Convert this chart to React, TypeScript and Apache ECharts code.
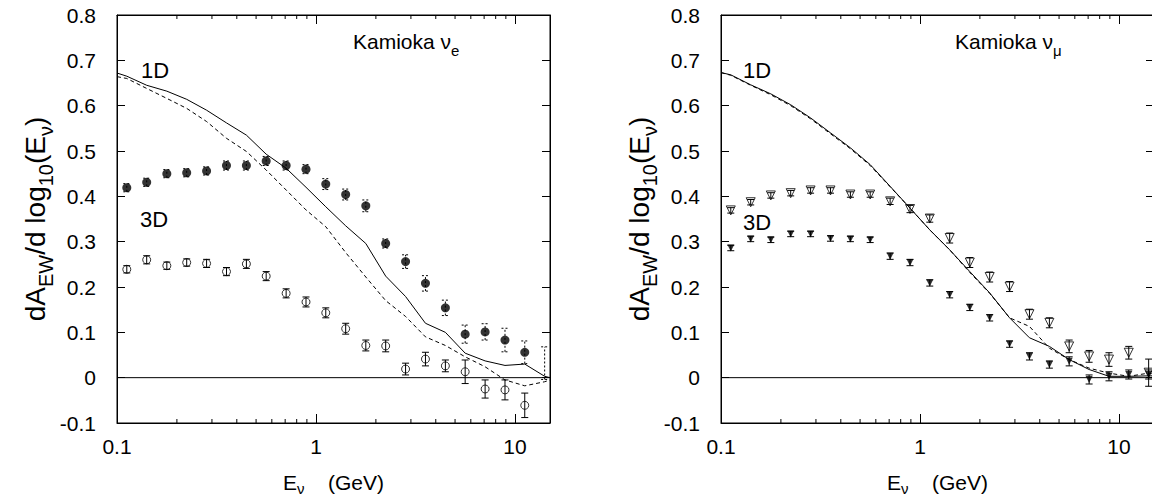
import React, { useEffect, useRef } from 'react';
import * as echarts from 'echarts';

const FONT = "'Liberation Sans', Arial, Helvetica, sans-serif";
const FS = 21;

const X_MIN = 0.1;
const X_MAX = 15;
const Y_MIN = -0.1;
const Y_MAX = 0.8;
const X_LABELS = [0.1, 1, 10];
const MINOR_TICKS = [0.2, 0.3, 0.4, 0.5, 0.6, 0.7, 0.8, 0.9, 2, 3, 4, 5, 6, 7, 8, 9];

// bin centres (GeV)
const BIN_E = [0.112, 0.141, 0.178, 0.224, 0.282, 0.355, 0.447, 0.562, 0.708, 0.891, 1.12, 1.41, 1.78, 2.24, 2.82, 3.55, 4.47, 5.62, 7.08, 8.91, 11.2, 14.1];
// curve sample points
const CURVE_E = [0.1, 0.112, 0.141, 0.178, 0.224, 0.282, 0.355, 0.447, 0.562, 0.708, 0.891, 1.12, 1.41, 1.78, 2.24, 2.82, 3.55, 4.47, 5.62, 7.08, 8.91, 11.2, 14.1, 15];

// ---- Kamioka nu_e ----
const NUE_SOLID = [0.672, 0.665, 0.645, 0.632, 0.614, 0.590, 0.562, 0.535, 0.493, 0.462, 0.420, 0.377, 0.335, 0.296, 0.224, 0.179, 0.120, 0.100, 0.054, 0.037, 0.027, 0.030, 0.003, 0.0];
const NUE_DASHED = [0.664, 0.660, 0.638, 0.616, 0.594, 0.565, 0.528, 0.499, 0.458, 0.414, 0.370, 0.333, 0.276, 0.222, 0.170, 0.135, 0.090, 0.071, 0.046, 0.024, -0.005, -0.018, -0.009, -0.005];
const NUE_FILLED = [0.419, 0.431, 0.450, 0.452, 0.456, 0.468, 0.468, 0.478, 0.468, 0.460, 0.427, 0.404, 0.379, 0.296, 0.256, 0.208, 0.154, 0.096, 0.101, 0.083, 0.056];
const NUE_FILLED_ERR = [0.009, 0.009, 0.009, 0.009, 0.009, 0.010, 0.010, 0.010, 0.010, 0.010, 0.012, 0.012, 0.013, 0.010, 0.015, 0.017, 0.017, 0.020, 0.018, 0.026, 0.025];
const NUE_LAST_E = [14.1];
const NUE_LAST_VAL = [0.032];
const NUE_LAST_ERR = [0.036];
const NUE_OPEN = [0.239, 0.260, 0.247, 0.254, 0.252, 0.234, 0.251, 0.224, 0.186, 0.167, 0.143, 0.108, 0.071, 0.070, 0.019, 0.041, 0.026, 0.013, -0.025, -0.027, -0.061];
const NUE_OPEN_ERR = [0.008, 0.009, 0.008, 0.008, 0.009, 0.009, 0.010, 0.010, 0.010, 0.011, 0.011, 0.012, 0.012, 0.013, 0.013, 0.015, 0.013, 0.026, 0.020, 0.022, 0.027];

// ---- Kamioka nu_mu ----
const NUM_SOLID = [0.673, 0.668, 0.646, 0.626, 0.602, 0.573, 0.540, 0.507, 0.470, 0.422, 0.374, 0.326, 0.282, 0.234, 0.187, 0.132, 0.088, 0.069, 0.040, 0.018, 0.003, 0.003, 0.004, 0.004];
const NUM_DASHED = [0.673, 0.667, 0.645, 0.624, 0.600, 0.571, 0.538, 0.505, 0.468, 0.421, 0.374, 0.326, 0.282, 0.232, 0.186, 0.132, 0.113, 0.065, 0.040, 0.021, 0.010, 0.003, 0.010, 0.008];
const NUM_OPEN = [0.369, 0.387, 0.402, 0.407, 0.413, 0.413, 0.404, 0.404, 0.389, 0.372, 0.351, 0.308, 0.254, 0.222, 0.201, 0.140, 0.121, 0.069, 0.047, 0.040, 0.055, 0.011];
const NUM_OPEN_ERR = [0.006, 0.006, 0.006, 0.006, 0.006, 0.006, 0.006, 0.006, 0.007, 0.008, 0.008, 0.011, 0.011, 0.011, 0.011, 0.011, 0.011, 0.014, 0.013, 0.015, 0.014, 0.030];
const NUM_FILLED = [0.286, 0.306, 0.304, 0.317, 0.317, 0.307, 0.306, 0.304, 0.268, 0.254, 0.209, 0.183, 0.155, 0.132, 0.074, 0.047, 0.029, 0.036, -0.004, 0.003, 0.007, 0.007];
const NUM_FILLED_ERR = [0.006, 0.006, 0.006, 0.006, 0.006, 0.006, 0.006, 0.006, 0.007, 0.007, 0.007, 0.007, 0.007, 0.007, 0.007, 0.008, 0.008, 0.010, 0.010, 0.010, 0.010, 0.010];

const GRIDS = [
  { left: 117, top: 15, width: 433, height: 408 },
  { left: 721, top: 15, width: 433, height: 408 },
];

const xNameRich = {
  n: { fontSize: FS, fontFamily: FONT, color: '#000', lineHeight: 28, verticalAlign: 'middle' },
  s: { fontSize: 15, fontFamily: FONT, color: '#000', verticalAlign: 'bottom' },
};
const yNameRich = {
  n: { fontSize: 28, fontFamily: FONT, color: '#000', lineHeight: 41, verticalAlign: 'middle' },
  s: { fontSize: 20, fontFamily: FONT, color: '#000', verticalAlign: 'bottom' },
};
const gRich = {
  n: { fontSize: FS, fontFamily: FONT, fill: '#000', lineHeight: 33, verticalAlign: 'middle' },
  s: { fontSize: 15, fontFamily: FONT, fill: '#000', verticalAlign: 'bottom' },
};

function xLabel(v: number) {
  for (const t of X_LABELS) {
    if (Math.abs(v - t) < t * 1e-6) return String(t);
  }
  return '';
}

function makeAxes() {
  const xAxis: any[] = [];
  const yAxis: any[] = [];
  GRIDS.forEach((_, g) => {
    const common = {
      type: 'log', logBase: 10, gridIndex: g, min: X_MIN, max: X_MAX,
      splitLine: { show: false },
      axisLine: { show: true, onZero: false, lineStyle: { color: '#000', width: 1 } },
      axisTick: { show: true, inside: true, length: 9, lineStyle: { color: '#000', width: 1 } },
    };
    xAxis.push({
      ...common, position: 'bottom',
      axisLabel: { show: true, formatter: xLabel, color: '#000', fontSize: FS, fontFamily: FONT, margin: 13, showMaxLabel: false },
      name: '{n|E}{s|ν}{n|    (GeV)}', nameLocation: 'middle', nameGap: 45,
      nameTextStyle: { rich: xNameRich },
    });
    xAxis.push({ ...common, position: 'top', axisLabel: { show: false } });
    const ycommon = {
      type: 'value', gridIndex: g, min: Y_MIN, max: Y_MAX, interval: 0.1,
      splitLine: { show: false },
      axisLine: { show: true, onZero: false, lineStyle: { color: '#000', width: 1 } },
      axisTick: { show: true, inside: true, length: 8, lineStyle: { color: '#000', width: 1 } },
    };
    yAxis.push({
      ...ycommon, position: 'left',
      axisLabel: {
        show: true, color: '#000', fontSize: FS, fontFamily: FONT, margin: 21,
        formatter: (v: number) => (Math.abs(v) < 1e-9 ? '0' : v.toFixed(1)),
      },
      name: '{n|dA}{s|EW}{n|/d log}{s|10}{n|(E}{s|ν}{n|)}', nameLocation: 'middle', nameRotate: 90, nameGap: 56,
      nameTextStyle: { rich: yNameRich },
    });
    yAxis.push({ ...ycommon, position: 'right', axisLabel: { show: false } });
  });
  return { xAxis, yAxis };
}

function axisIdx(g: number) {
  return { xAxisIndex: g * 2, yAxisIndex: g * 2 };
}

function lineSeries(g: number, xs: number[], ys: number[], dashed: boolean) {
  return {
    type: 'line', ...axisIdx(g), showSymbol: false, symbol: 'none', z: 2, silent: true,
    data: xs.map((x, i) => [x, ys[i]]),
    lineStyle: { color: '#000', width: 1, type: dashed ? [4, 3] : 'solid' },
  };
}

function scatterSeries(g: number, xs: number[], ys: number[], symbol: string, filled: boolean, size: number, rotate = 0) {
  return {
    type: 'scatter', ...axisIdx(g), symbol, symbolSize: size, symbolRotate: rotate, z: 4, silent: true,
    data: ys.map((y, i) => [xs[i], y]),
    itemStyle: filled
      ? { color: '#000' }
      : { color: 'rgba(255,255,255,0)', borderColor: '#000', borderWidth: 1 },
  };
}

function errorSeries(g: number, xs: number[], ys: number[], errs: number[], dashed: boolean) {
  return {
    type: 'custom', ...axisIdx(g), z: 5, silent: true,
    data: ys.map((y, i) => [xs[i], y, errs[i]]),
    encode: { x: 0, y: 1 },
    renderItem: (params: any, api: any) => {
      const x = api.value(0);
      const y = api.value(1);
      const e = api.value(2);
      const lo = api.coord([x, y - e]);
      const hi = api.coord([x, y + e]);
      const w = 3.5;
      const style: any = { stroke: '#000', lineWidth: 1, fill: 'none' };
      if (dashed) style.lineDash = [2, 2];
      return {
        type: 'group',
        children: [
          { type: 'line', shape: { x1: lo[0], y1: lo[1], x2: hi[0], y2: hi[1] }, style },
          { type: 'line', shape: { x1: lo[0] - w, y1: lo[1], x2: lo[0] + w, y2: lo[1] }, style },
          { type: 'line', shape: { x1: hi[0] - w, y1: hi[1], x2: hi[0] + w, y2: hi[1] }, style },
        ],
      };
    },
  };
}

function minorTickSeries(g: number) {
  return {
    type: 'custom', ...axisIdx(g), z: 6, silent: true,
    data: MINOR_TICKS.map((v) => [v, 0]),
    encode: { x: 0, y: 1 },
    renderItem: (params: any, api: any) => {
      const x = api.value(0);
      const b = api.coord([x, Y_MIN]);
      const t = api.coord([x, Y_MAX]);
      const style = { stroke: '#000', lineWidth: 1 };
      return {
        type: 'group',
        children: [
          { type: 'line', shape: { x1: b[0], y1: b[1], x2: b[0], y2: b[1] - 4 }, style },
          { type: 'line', shape: { x1: t[0], y1: t[1], x2: t[0], y2: t[1] + 4 }, style },
        ],
      };
    },
  };
}

function zeroLine(g: number) {
  return {
    type: 'line', ...axisIdx(g), showSymbol: false, symbol: 'none', z: 2, silent: true,
    data: [[X_MIN, 0], [X_MAX, 0]],
    lineStyle: { color: '#000', width: 1 },
  };
}

function label(x: number, y: number, text: string) {
  return {
    type: 'text', x, y, z: 10,
    style: { text, fontSize: 22, fontFamily: FONT, fill: '#000', align: 'left', verticalAlign: 'middle' },
  };
}

function richLabel(x: number, y: number, text: string) {
  return {
    type: 'text', x, y, z: 10,
    style: { text, rich: gRich, align: 'left', verticalAlign: 'middle' },
  };
}

export default function App() {
  const ref = useRef<HTMLDivElement>(null);
  useEffect(() => {
    if (!ref.current) return;
    const chart = echarts.init(ref.current, null, { renderer: 'svg' });
    const { xAxis, yAxis } = makeAxes();
    const BINS21 = BIN_E.slice(0, 21);
    chart.setOption({
      animation: false,
      backgroundColor: '#fff',
      grid: GRIDS.map((g) => ({
        ...g, show: true, borderColor: '#000', borderWidth: 1, backgroundColor: 'transparent',
        containLabel: false, outerBoundsMode: 'none',
      })),
      xAxis,
      yAxis,
      series: [
        zeroLine(0),
        lineSeries(0, CURVE_E, NUE_SOLID, false),
        lineSeries(0, CURVE_E, NUE_DASHED, true),
        errorSeries(0, BINS21, NUE_FILLED, NUE_FILLED_ERR, true),
        errorSeries(0, NUE_LAST_E, NUE_LAST_VAL, NUE_LAST_ERR, true),
        errorSeries(0, BINS21, NUE_OPEN, NUE_OPEN_ERR, false),
        scatterSeries(0, BINS21, NUE_FILLED, 'circle', true, 9),
        scatterSeries(0, BINS21, NUE_OPEN, 'circle', false, 8),
        minorTickSeries(0),

        zeroLine(1),
        lineSeries(1, CURVE_E, NUM_SOLID, false),
        lineSeries(1, CURVE_E, NUM_DASHED, true),
        errorSeries(1, BIN_E, NUM_OPEN, NUM_OPEN_ERR, false),
        errorSeries(1, BIN_E, NUM_FILLED, NUM_FILLED_ERR, false),
        scatterSeries(1, BIN_E, NUM_OPEN, 'triangle', false, 9, 180),
        scatterSeries(1, BIN_E, NUM_FILLED, 'triangle', true, 7, 180),
        minorTickSeries(1),
      ],
      graphic: [
        richLabel(353, 41, '{n|Kamioka ν}{s|e}'),
        richLabel(955, 41, '{n|Kamioka ν}{s|μ}'),
        label(141, 70.5, '1D'),
        label(140, 219.5, '3D'),
        label(743, 70.5, '1D'),
        label(743, 222, '3D'),
      ],
    });
    return () => chart.dispose();
  }, []);
  return (
    <div style={{ position: 'fixed', left: 0, top: 0, width: 1152, height: 497, overflow: 'hidden', background: '#fff' }}>
      <div ref={ref} style={{ width: 1160, height: 497 }} />
    </div>
  );
}
